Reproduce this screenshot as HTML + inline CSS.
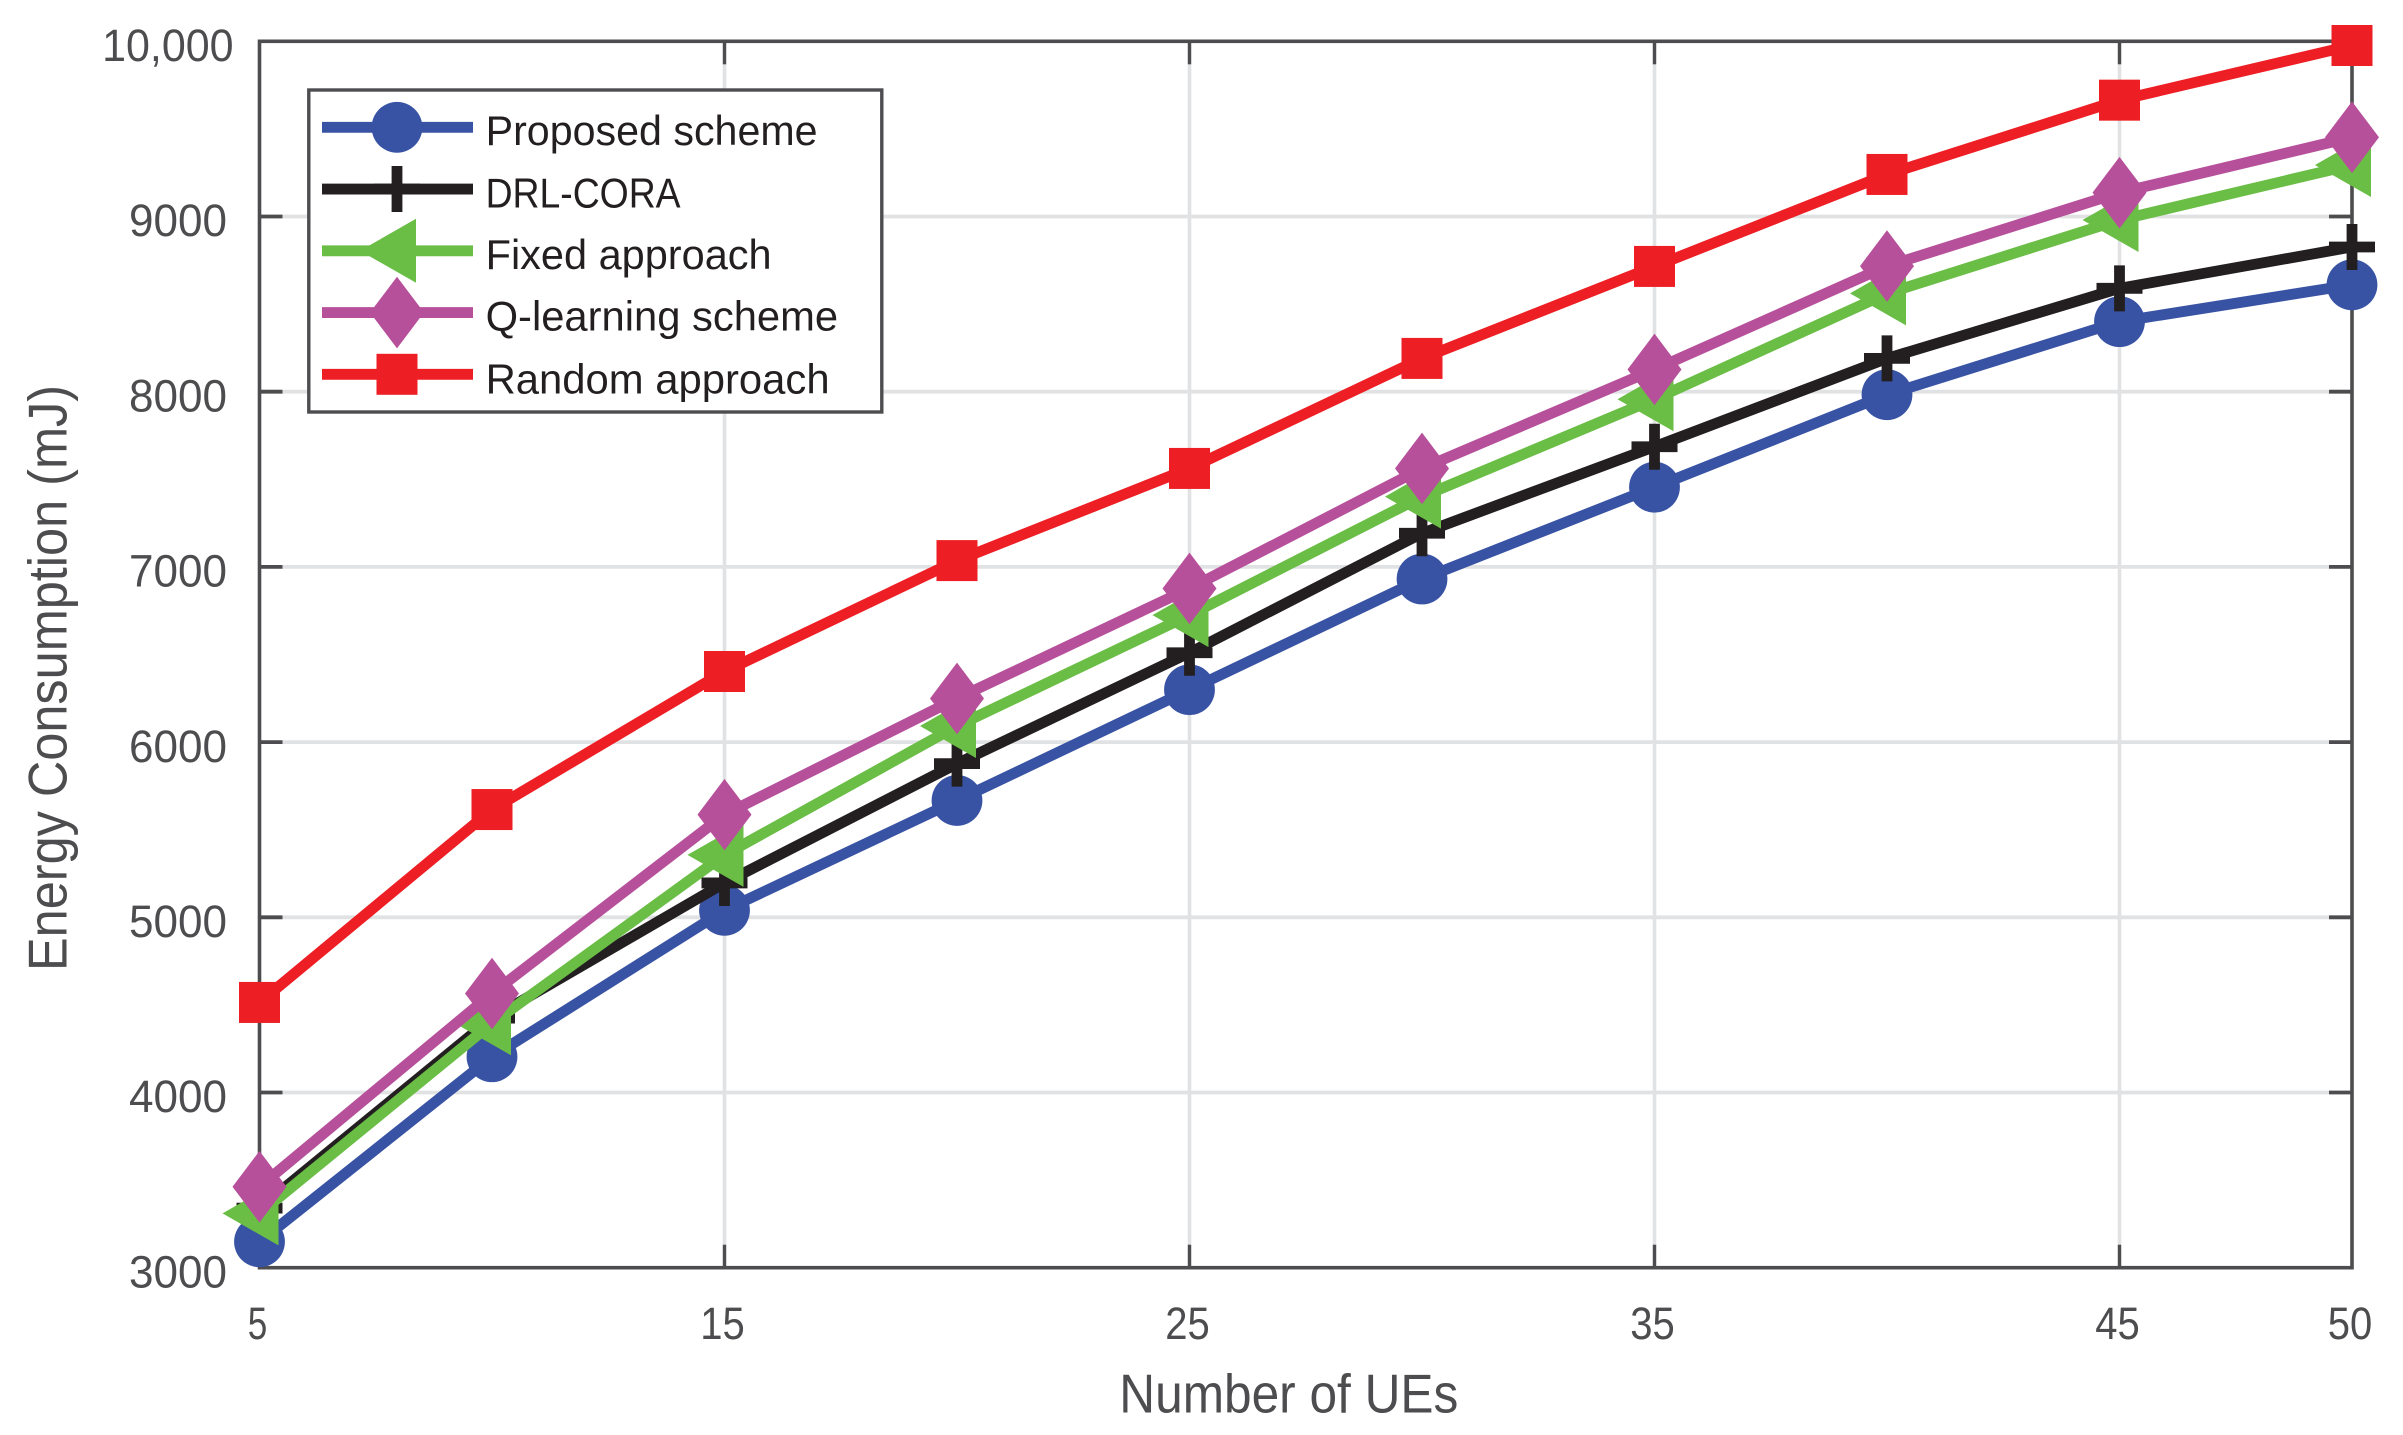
<!DOCTYPE html>
<html lang="en">
<head>
<meta charset="utf-8">
<title>Energy Consumption vs Number of UEs</title>
<style>
html,body{margin:0;padding:0;background:#fff;}
svg{display:block;}
text{font-family:"Liberation Sans",sans-serif;}
</style>
</head>
<body>
<svg id="chart" xmlns="http://www.w3.org/2000/svg" width="2403" height="1435" viewBox="0 0 2403 1435">
  <rect x="0" y="0" width="2403" height="1435" fill="#ffffff"/>
  <g id="grid"></g>
  <g id="ticks"></g>
  <rect x="259.5" y="41.3" width="2092.5" height="1226.4" fill="none" stroke="#4d4d4f" stroke-width="3.6"/>
  <g id="tick-labels"></g>
  <g id="series"></g>
  <text x="1119.3" y="1412.3" font-size="55" fill="#4d4d4f" textLength="339" lengthAdjust="spacingAndGlyphs">Number of UEs</text>
  <text transform="translate(66.7 971) rotate(-90)" x="0" y="0" font-size="55" fill="#4d4d4f" textLength="586" lengthAdjust="spacingAndGlyphs">Energy Consumption (mJ)</text>
  <g id="legend">
    <rect x="308.8" y="90" width="573" height="322" fill="#ffffff" stroke="#4d4d4f" stroke-width="3.4"/>
    <text x="485.6" y="145" font-size="42" fill="#231f20" textLength="332" lengthAdjust="spacingAndGlyphs">Proposed scheme</text>
    <text x="485.6" y="207.3" font-size="42" fill="#231f20" textLength="195" lengthAdjust="spacingAndGlyphs">DRL-CORA</text>
    <text x="485.6" y="269" font-size="42" fill="#231f20" textLength="286" lengthAdjust="spacingAndGlyphs">Fixed approach</text>
    <text x="485.6" y="330.7" font-size="42" fill="#231f20" textLength="352.5" lengthAdjust="spacingAndGlyphs">Q-learning scheme</text>
    <text x="485.6" y="393.3" font-size="42" fill="#231f20" textLength="344" lengthAdjust="spacingAndGlyphs">Random approach</text>
  </g>
</svg>
<script>
const ueCounts = [5, 10, 15, 20, 25, 30, 35, 40, 45, 50];
const proposedScheme = [3148, 4204, 5040, 5667, 6299, 6931, 7455, 7983, 8400, 8610];
const drlCora = [3340, 4425, 5196, 5877, 6510, 7192, 7686, 8190, 8590, 8826];
const fixedApproach = [3310, 4395, 5356, 6092, 6725, 7401, 7957, 8561, 8980, 9294];
const qLearningScheme = [3462, 4565, 5586, 6249, 6877, 7562, 8127, 8717, 9136, 9452];
const randomApproach = [4514, 5615, 6403, 7036, 7562, 8190, 8715, 9240, 9664, 9976];
const xTickValues = [5, 15, 25, 35, 45, 50];
const yTickValues = [3000, 4000, 5000, 6000, 7000, 8000, 9000, 10000];
const yTickLabels = ["3000", "4000", "5000", "6000", "7000", "8000", "9000", "10,000"];

const NS = 'http://www.w3.org/2000/svg';
const AXIS = '#4d4d4f', GRID = '#e1e2e3';
const LEFT = 259.5, RIGHT = 2352, TOP = 41.3, BOTTOM = 1267.7;
const xScale = v => LEFT + (v - 5) / 45 * (RIGHT - LEFT);
const yScale = v => BOTTOM - (v - 3000) / 7000 * (BOTTOM - TOP);

function mk(parent, tag, attrs) {
  const el = document.createElementNS(NS, tag);
  for (const k in attrs) el.setAttribute(k, attrs[k]);
  parent.appendChild(el);
  return el;
}

const gridG = document.getElementById('grid');
const ticksG = document.getElementById('ticks');
const labelsG = document.getElementById('tick-labels');
const seriesG = document.getElementById('series');
const legendG = document.getElementById('legend');

yTickValues.forEach((v, i) => {
  const y = yScale(v);
  if (v > 3000 && v < 10000) {
    const g = mk(gridG, 'line', {x1: LEFT, x2: RIGHT, y1: y, y2: y, stroke: GRID, 'stroke-width': 3.8});
    
    
    const t1 = mk(ticksG, 'line', {x1: LEFT, x2: LEFT + 23, y1: y, y2: y, stroke: AXIS, 'stroke-width': 3.8});
    
    
    const t2 = mk(ticksG, 'line', {x1: RIGHT - 23, x2: RIGHT, y1: y, y2: y, stroke: AXIS, 'stroke-width': 3.8});
    
    
  }
  const label = yTickLabels[i];
  const wide = label.length > 4;
  const w = wide ? 131.5 : 98;
  const right = wide ? 233.6 : 227;
  const t = mk(labelsG, 'text', {x: right - w, y: y + 19.7, 'font-size': 45, fill: AXIS, textLength: w, lengthAdjust: 'spacingAndGlyphs'});
  
  
  t.textContent = label;
});

xTickValues.forEach(v => {
  const x = xScale(v);
  if (v > 5 && v < 50) {
    const g = mk(gridG, 'line', {x1: x, x2: x, y1: TOP, y2: BOTTOM, stroke: GRID, 'stroke-width': 3.6});
    
    
    const t1 = mk(ticksG, 'line', {x1: x, x2: x, y1: BOTTOM - 23, y2: BOTTOM, stroke: AXIS, 'stroke-width': 3.4});
    
    
    const t2 = mk(ticksG, 'line', {x1: x, x2: x, y1: TOP, y2: TOP + 23, stroke: AXIS, 'stroke-width': 3.4});
    
    
  }
  const s = String(v);
  const w = s.length > 1 ? 44.5 : 19.5;
  const t = mk(labelsG, 'text', {x: x - 2 - w / 2, y: 1339.2, 'font-size': 45, fill: AXIS, textLength: w, lengthAdjust: 'spacingAndGlyphs'});
  
  
  t.textContent = s;
});

function drawMarker(parent, kind, color, x, y) {
  let el;
  if (kind === 'circle') {
    el = mk(parent, 'circle', {cx: x, cy: y, r: 25.4, fill: color});
  } else if (kind === 'plus') {
    el = mk(parent, 'path', {d: `M${x - 23} ${y}H${x + 23}M${x} ${y - 23}V${y + 23}`, stroke: color, 'stroke-width': 10.8, fill: 'none'});
  } else if (kind === 'triangle') {
    el = mk(parent, 'polygon', {points: `${x - 37},${y} ${x + 19},${y - 32} ${x + 19},${y + 32}`, fill: color});
  } else if (kind === 'diamond') {
    el = mk(parent, 'polygon', {points: `${x},${y - 35.8} ${x + 27},${y} ${x},${y + 35.8} ${x - 27},${y}`, fill: color});
  } else {
    el = mk(parent, 'rect', {x: x - 20.5, y: y - 20.5, width: 41, height: 41, fill: color});
  }
  return el;
}

const seriesList = [
  {key: 'proposed', values: proposedScheme, color: '#3953a4', marker: 'circle'},
  {key: 'drl-cora', values: drlCora, color: '#231f20', marker: 'plus'},
  {key: 'fixed', values: fixedApproach, color: '#6abd45', marker: 'triangle'},
  {key: 'q-learning', values: qLearningScheme, color: '#b7509b', marker: 'diamond'},
  {key: 'random', values: randomApproach, color: '#ed1f24', marker: 'square'}
];

seriesList.forEach((s, idx) => {
  const g = mk(seriesG, 'g', {});
  
  
  const pts = s.values.map((v, i) => xScale(ueCounts[i]) + ',' + yScale(v)).join(' ');
  const line = mk(g, 'polyline', {points: pts, fill: 'none', stroke: s.color, 'stroke-width': 10.8, 'stroke-linejoin': 'round'});
  
  
  s.values.forEach((v, i) => {
    const m = drawMarker(g, s.marker, s.color, xScale(ueCounts[i]), yScale(v));
    
    
  });

  const rowY = 127.3 + idx * 61.75;
  const sample = mk(legendG, 'line', {x1: 322, x2: 473, y1: rowY, y2: rowY, stroke: s.color, 'stroke-width': 10.8});
  
  
  const lm = drawMarker(legendG, s.marker, s.color, 397, rowY);
  
  
});
</script>
</body>
</html>
